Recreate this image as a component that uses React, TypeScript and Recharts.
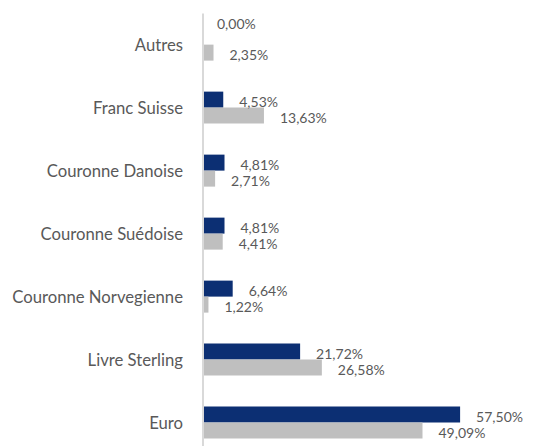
import React from 'react';
import { BarChart, Bar, XAxis, YAxis, LabelList } from 'recharts';

const categories = [
  'Autres',
  'Franc Suisse',
  'Couronne Danoise',
  'Couronne Suédoise',
  'Couronne Norvegienne',
  'Livre Sterling',
  'Euro',
];
const navyValues = [0.0, 4.53, 4.81, 4.81, 6.64, 21.72, 57.5];
const grayValues = [2.35, 13.63, 2.71, 4.41, 1.22, 26.58, 49.09];

const data = categories.map((name, i) => ({ name, navy: navyValues[i], gray: grayValues[i] }));

const fmt = (v: number) => v.toFixed(2).replace('.', ',') + '%';

const labelStyle = {
  fill: '#595959',
  fontSize: 14,
  fontFamily: 'Lato',
};

const NavyLabel = (props: any) => {
  const { x, y, width, height, value } = props;
  if (value === 0) return null;
  return (
    <text x={x + width + 16} y={y + height / 2 + 2} dy="0.35em" textAnchor="start" {...labelStyle}>
      {fmt(value)}
    </text>
  );
};

const GrayLabel = (props: any) => {
  const { x, y, width, height, value, index } = props;
  const navyVal = navyValues[index];
  return (
    <g>
      <text x={x + width + 16} y={y + height / 2 + 2} dy="0.35em" textAnchor="start" {...labelStyle}>
        {fmt(value)}
      </text>
      {navyVal === 0 ? (
        <text x={x + 14} y={y - height / 2 - 13} dy="0.35em" textAnchor="start" {...labelStyle}>
          {fmt(navyVal)}
        </text>
      ) : null}
    </g>
  );
};

export default function App() {
  return (
    <div style={{ position: 'fixed', left: 0, top: 0, width: 535, height: 446, overflow: 'hidden', background: '#fff' }}>
      <BarChart
        width={535}
        height={460}
        data={data}
        layout="vertical"
        margin={{ top: 13.5, right: 19, bottom: 5.5, left: 0 }}
        barCategoryGap="24%"
        barGap={0}
      >
        <XAxis type="number" domain={[0, 70]} hide />
        <YAxis
          type="category"
          dataKey="name"
          width={203}
          tickLine={false}
          tickSize={0}
          tickMargin={20}
          axisLine={{ stroke: '#d9d9d9', strokeWidth: 2 }}
          tick={{ fill: '#595959', fontSize: 16.7, fontFamily: 'Lato' }}
          interval={0}
        />
        <Bar dataKey="navy" fill="#0c2f73" isAnimationActive={false}>
          <LabelList dataKey="navy" content={NavyLabel} />
        </Bar>
        <Bar dataKey="gray" fill="#bfbfbf" isAnimationActive={false}>
          <LabelList dataKey="gray" content={GrayLabel} />
        </Bar>
      </BarChart>
    </div>
  );
}
